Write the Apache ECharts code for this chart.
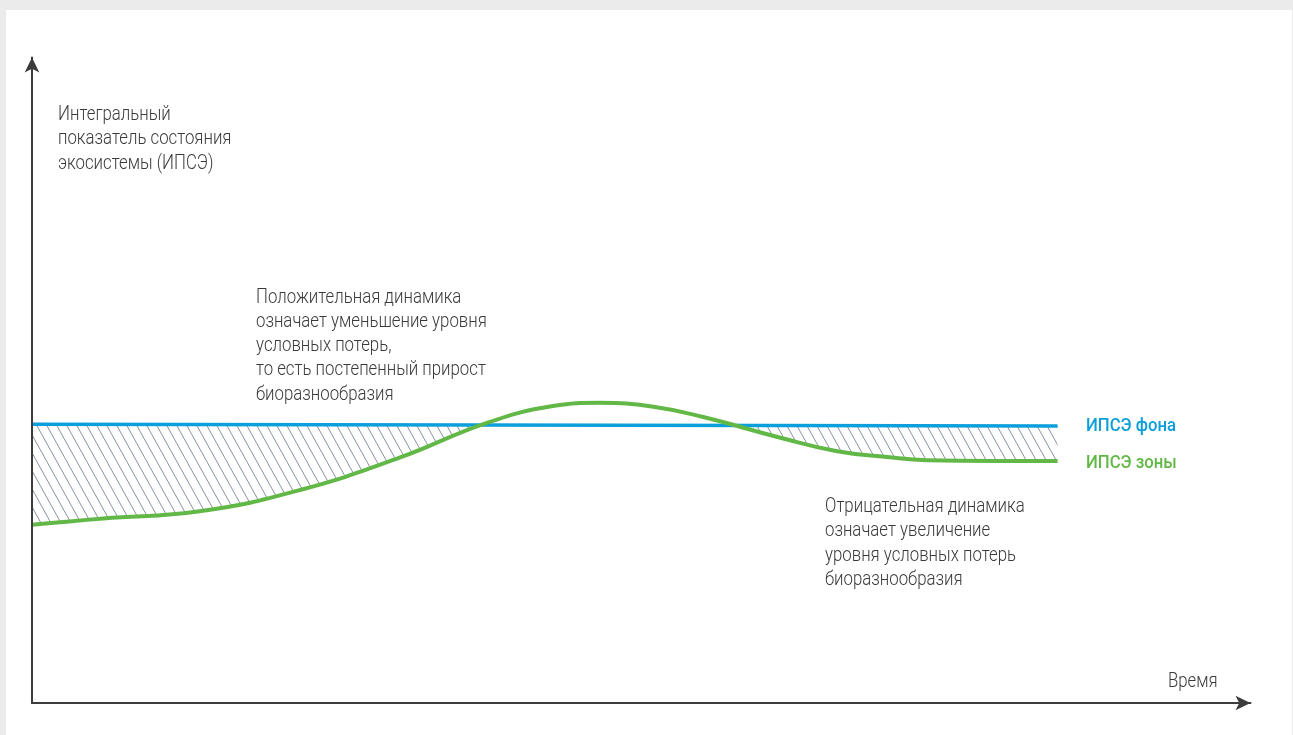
<!DOCTYPE html>
<html>
<head>
<meta charset="utf-8">
<script src="https://cdn.jsdelivr.net/npm/echarts@6/dist/echarts.min.js"></script>
<style>
  html, body { margin: 0; padding: 0; background: #ebebeb; }
  #wrap { position: relative; width: 1293px; height: 735px; background: #ebebeb; overflow: hidden; }
  #chart { position: absolute; left: 6px; top: 10px; width: 1286px; height: 725px; background: #fff; }
</style>
</head>
<body>
<div id="wrap"><div id="chart"></div></div>
<script>
// ИПСЭ зоны (green curve)
const zoneTime = [0, 7, 16.5, 26.4, 36.2, 44.8, 51.3, 55.9, 61.2, 66.1, 73.7, 79.3, 84.2, 88.1, 95, 101];
const zoneValues = [27.6, 28.6, 29.7, 33.0, 38.0, 43.4, 46.0, 46.5, 45.9, 44.3, 41.1, 39.0, 38.1, 37.6, 37.5, 37.5];
// ИПСЭ фона (blue line)
const bgTime = [0, 101];
const bgValues = [43.2, 42.9];

const yTitle = 'Интегральный\nпоказатель состояния\nэкосистемы (ИПСЭ)';
const xTitle = 'Время';
const positiveNote = 'Положительная динамика\nозначает уменьшение уровня\nусловных потерь,\nто есть постепенный прирост\nбиоразнообразия';
const negativeNote = 'Отрицательная динамика\nозначает увеличение\nуровня условных потерь\nбиоразнообразия';
const bgName = 'ИПСЭ фона';
const zoneName = 'ИПСЭ зоны';

const BLUE = '#0b9fdb';
const GREEN = '#62b847';
const TEXT = '#3a3a3a';

function hatchTile() {
  const w = 10, h = 18;
  const c = document.createElement('canvas');
  c.width = w; c.height = h;
  const ctx = c.getContext('2d');
  ctx.strokeStyle = '#8793a3';
  ctx.lineWidth = 1;
  [-w, 0, w].forEach(function (dx) {
    ctx.beginPath();
    ctx.moveTo(dx, 0);
    ctx.lineTo(dx + w, h);
    ctx.stroke();
  });
  return c;
}

const zip = (xs, ys) => xs.map((x, i) => [x, ys[i]]);
const zoneData = zip(zoneTime, zoneValues);
const bgData = zip(bgTime, bgValues);
// the white mask reaches a hair past the last point so the hatch edge is fully hidden
const maskData = zoneData.concat([[zoneTime[zoneTime.length - 1] + 0.3, zoneValues[zoneValues.length - 1]]]);

const axisLine = {
  show: true,
  onZero: false,
  symbol: ['none', 'arrow'],
  symbolSize: [11, 15],
  lineStyle: { color: '#3c3c3c', width: 2 }
};

const font = '"Roboto", "Noto Sans", sans-serif';
const light = '300 20px ' + font;

function label(x, y, text, opts) {
  return {
    type: 'text', x: x, y: y, z: 100, scaleX: 0.84,
    style: Object.assign({ text: text, fill: TEXT, font: light, lineHeight: 24.4, verticalAlign: 'top' }, opts || {})
  };
}

const chart = echarts.init(document.getElementById('chart'));
chart.setOption({
  animation: false,
  grid: { left: 26, right: 41.5, top: 47.5, bottom: 32, containLabel: false },
  xAxis: {
    type: 'value', min: 0, max: 120, z: 10,
    axisLine: axisLine, axisTick: { show: false }, axisLabel: { show: false }, splitLine: { show: false }
  },
  yAxis: {
    type: 'value', min: 0, max: 100, z: 10,
    axisLine: axisLine, axisTick: { show: false }, axisLabel: { show: false }, splitLine: { show: false }
  },
  series: [
    {
      // hatch under the background line
      type: 'line', data: bgData, symbol: 'none', z: 2, silent: true,
      lineStyle: { width: 0 },
      areaStyle: { origin: 'start', opacity: 1, color: { image: hatchTile(), repeat: 'repeat' } }
    },
    {
      // white mask under the zone curve
      type: 'line', data: maskData, symbol: 'none', smooth: 0.45, z: 3, silent: true,
      lineStyle: { width: 0 },
      areaStyle: { origin: 'start', opacity: 1, color: '#fff' }
    },
    {
      name: bgName, type: 'line', data: bgData, symbol: 'none', z: 4,
      lineStyle: { color: BLUE, width: 3.5 }
    },
    {
      name: zoneName, type: 'line', data: zoneData, symbol: 'none', smooth: 0.45, z: 5,
      lineStyle: { color: GREEN, width: 4 }
    }
  ],
  graphic: [
    label(52, 92.5, yTitle),
    label(250, 275.5, positiveNote, { lineHeight: 24.25 }),
    label(819, 485, negativeNote, { lineHeight: 24.3 }),
    label(1162, 672, xTitle, { verticalAlign: 'middle' }),
    Object.assign(label(1080, 416, bgName, { fill: BLUE, font: '500 19px ' + font, verticalAlign: 'middle' }), { scaleX: 0.88 }),
    Object.assign(label(1080, 453, zoneName, { fill: GREEN, font: '500 19px ' + font, verticalAlign: 'middle' }), { scaleX: 0.88 })
  ]
});
</script>
</body>
</html>
